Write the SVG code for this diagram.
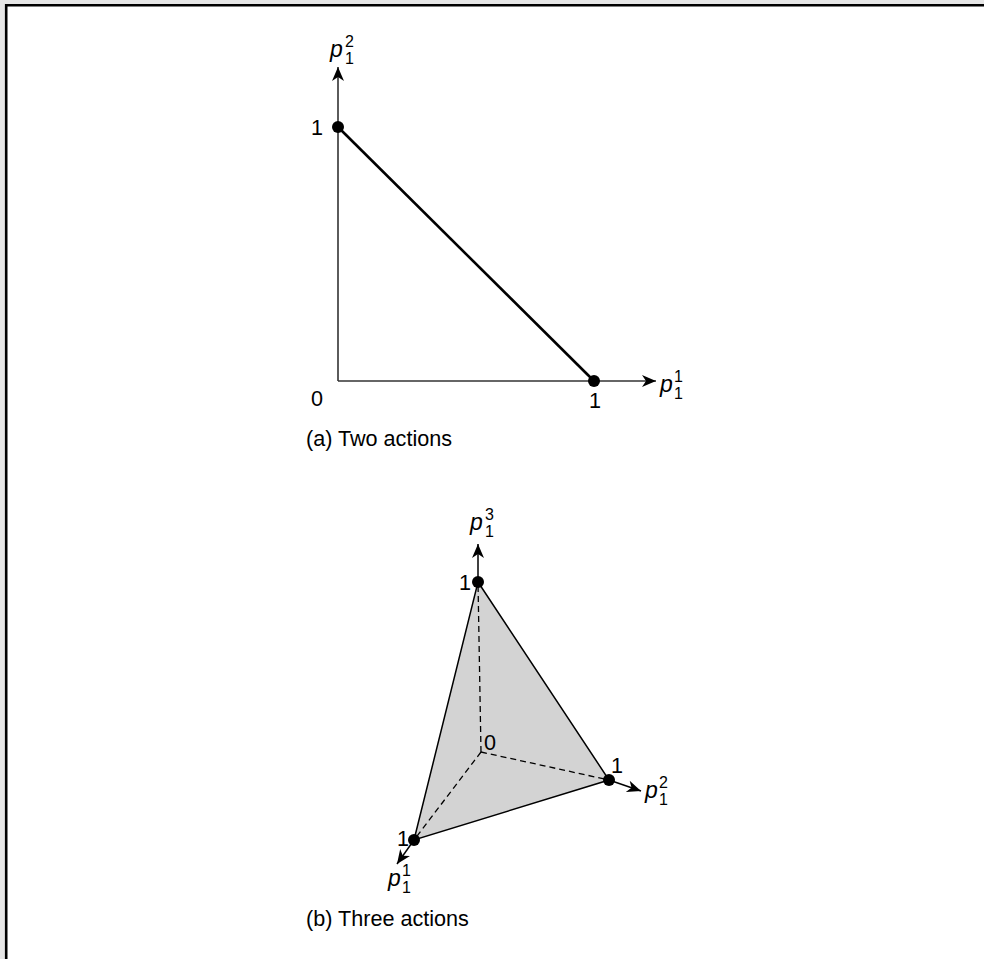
<svg xmlns="http://www.w3.org/2000/svg" width="984" height="959" viewBox="0 0 984 959">
<defs>
<style>
.lbl{font-family:"Liberation Sans",Arial,sans-serif;font-size:21.6px;fill:#000}
.var{font-family:"Liberation Sans",Arial,sans-serif;font-size:23px;font-style:italic;fill:#000}
.idx{font-family:"Liberation Sans",Arial,sans-serif;font-size:16px;fill:#000}
.axis{stroke:#333;stroke-width:1.6;fill:none}
.thick{stroke:#000;stroke-width:2.6;fill:none}
.edge{stroke:#000;stroke-width:1.5}
.dash{stroke:#000;stroke-width:1.3;stroke-dasharray:6,4;fill:none}
.dot{fill:#000}
</style>
<marker id="arr" viewBox="-16 -8 18 16" markerWidth="18" markerHeight="16" refX="0" refY="0" orient="auto" markerUnits="userSpaceOnUse">
<path d="M0,0 L-14,-6 L-10,0 L-14,6 Z" fill="#000"/>
</marker>
</defs>
<rect x="0" y="0" width="984" height="959" fill="#e6e6e6"/>
<rect x="5" y="4" width="979" height="955" fill="#fff"/>
<path d="M6.2,959 V5.3 H984" stroke="#000" stroke-width="2.6" fill="none"/>

<g id="connectors">
<line class="axis" x1="338" y1="381" x2="338" y2="67" marker-end="url(#arr)"/>
<line class="axis" x1="338" y1="381" x2="656" y2="381" marker-end="url(#arr)"/>
<line class="thick" x1="338" y1="127" x2="594" y2="381"/>
<polygon class="edge" points="478,582 609,780 414,840" fill="#d3d3d3"/>
<line class="dash" x1="481" y1="752" x2="478" y2="582"/>
<line class="dash" x1="481" y1="752" x2="609" y2="780"/>
<line class="dash" x1="481" y1="752" x2="414" y2="840"/>
<line class="edge" x1="478" y1="582" x2="478" y2="544" marker-end="url(#arr)"/>
<line class="edge" x1="609" y1="780" x2="641" y2="791" marker-end="url(#arr)"/>
<line class="edge" x1="414" y1="840" x2="397" y2="864" marker-end="url(#arr)"/>
</g>

<g id="a-origin"><text class="lbl" x="317" y="406" text-anchor="middle">0</text></g>
<g id="a-p12"><circle class="dot" cx="338" cy="127" r="6"/><text class="lbl" x="323" y="135" text-anchor="end">1</text></g>
<g id="a-p11"><circle class="dot" cx="594" cy="381" r="6"/><text class="lbl" x="595" y="408" text-anchor="middle">1</text></g>
<g id="a-yaxis-label"><text class="var" x="330" y="57">p</text><text class="idx" x="345" y="64">1</text><text class="idx" x="345" y="47">2</text></g>
<g id="a-xaxis-label"><text class="var" x="660" y="392">p</text><text class="idx" x="674" y="399">1</text><text class="idx" x="674" y="382">1</text></g>
<g id="a-caption"><text class="lbl" x="306" y="446">(a) Two actions</text></g>

<g id="b-origin"><text class="lbl" x="484" y="750">0</text></g>
<g id="b-top"><circle class="dot" cx="478" cy="582" r="6"/><text class="lbl" x="471" y="590" text-anchor="end">1</text></g>
<g id="b-right"><circle class="dot" cx="609" cy="780" r="6"/><text class="lbl" x="611" y="773">1</text></g>
<g id="b-left"><circle class="dot" cx="414" cy="840" r="6"/><text class="lbl" x="409" y="846" text-anchor="end">1</text></g>
<g id="b-p13"><text class="var" x="470" y="530">p</text><text class="idx" x="485" y="537">1</text><text class="idx" x="485" y="520">3</text></g>
<g id="b-p12"><text class="var" x="645" y="798">p</text><text class="idx" x="659" y="805">1</text><text class="idx" x="659" y="788">2</text></g>
<g id="b-p11"><text class="var" x="388" y="886">p</text><text class="idx" x="402" y="893">1</text><text class="idx" x="402" y="876">1</text></g>
<g id="b-caption"><text class="lbl" x="306" y="926">(b) Three actions</text></g>
</svg>
